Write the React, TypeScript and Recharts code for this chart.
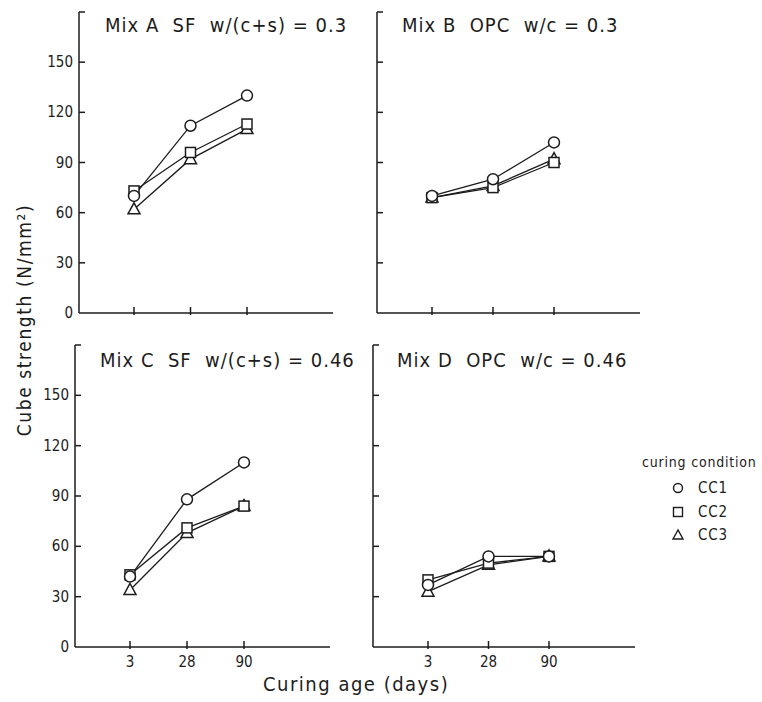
import { LineChart, Line, XAxis, YAxis } from 'recharts'

const INK = '#1c1c1c'
const FONT = '"DejaVu Sans Condensed", "Liberation Sans Narrow", "DejaVu Sans", sans-serif'

// curing age categories and y ticks
const ages = ['3', '28', '90']
const yTicks = [0, 30, 60, 90, 120, 150, 180]
const conditions = ['CC1', 'CC2', 'CC3']

// cube strength (N/mm2) per mix and curing condition
const mixA_cc1 = [70, 112, 130]
const mixA_cc2 = [73, 96, 113]
const mixA_cc3 = [62, 92, 110]

const mixB_cc1 = [70, 80, 102]
const mixB_cc2 = [69, 75, 90]
const mixB_cc3 = [69, 76, 92]

const mixC_cc1 = [42, 88, 110]
const mixC_cc2 = [43, 71, 84]
const mixC_cc3 = [34, 68, 84]

const mixD_cc1 = [37, 54, 54]
const mixD_cc2 = [40, 50, 54]
const mixD_cc3 = [33, 49, 54]

const rows = (cc1: number[], cc2: number[], cc3: number[]) =>
  ages.map((age, i) => ({ age, cc1: cc1[i], cc2: cc2[i], cc3: cc3[i] }))

const CircleDot = (p: any) => (
  <circle key={`c${p.index}`} cx={p.cx} cy={p.cy} r={5.5} fill="#fff" stroke={INK} strokeWidth={1.5} />
)
const SquareDot = (p: any) => (
  <rect key={`s${p.index}`} x={p.cx - 5} y={p.cy - 5} width={10} height={10} fill="#fff" stroke={INK} strokeWidth={1.5} />
)
const TriangleDot = (p: any) => (
  <polygon
    key={`t${p.index}`}
    points={`${p.cx},${p.cy - 6.5} ${p.cx - 6},${p.cy + 4.5} ${p.cx + 6},${p.cy + 4.5}`}
    fill="#fff"
    stroke={INK}
    strokeWidth={1.5}
  />
)

// inward tick marks, labels outside
const yTick = (showLabel: boolean) => (p: any) => {
  const v = p.payload.value
  return (
    <g>
      {v !== 0 && <line x1={p.x} x2={p.x + 6} y1={p.y} y2={p.y} stroke={INK} strokeWidth={1.5} />}
      {showLabel && v !== 180 && (
        <text x={p.x - 6} y={p.y} dy={5} textAnchor="end" fontSize={15} fill={INK} fontFamily={FONT}>
          {v}
        </text>
      )}
    </g>
  )
}
const xTick = (showLabel: boolean) => (p: any) => (
  <g>
    <line x1={p.x} x2={p.x} y1={p.y - 6} y2={p.y + 2} stroke={INK} strokeWidth={1.5} />
    {showLabel && (
      <text x={p.x} y={p.y + 20} textAnchor="middle" fontSize={15} fill={INK} fontFamily={FONT}>
        {p.payload.value}
      </text>
    )}
  </g>
)

type Row = { age: string; cc1: number; cc2: number; cc3: number }
type PanelProps = { box: [number, number, number, number]; data: Row[]; showY: boolean; showX: boolean }

function Panel({ box, data, showY, showX }: PanelProps) {
  const [l, t, r, b] = box
  const YW = 40, MT = 5, MR = 5, XH = 30
  return (
    <div style={{ position: 'absolute', left: l - YW, top: t - MT }}>
      <LineChart
        width={r - l + YW + MR}
        height={b - t + MT + XH}
        data={data}
        margin={{ top: MT, right: MR, bottom: 0, left: 0 }}
      >
        <XAxis
          dataKey="age"
          type="category"
          height={XH}
          interval={0}
          padding={{ left: 55, right: 86 }}
          tickSize={0}
          tickMargin={0}
          axisLine={{ stroke: INK, strokeWidth: 1.5 }}
          tickLine={false}
          tick={xTick(showX)}
        />
        <YAxis
          type="number"
          width={YW}
          domain={[0, 180]}
          ticks={yTicks}
          interval={0}
          tickSize={0}
          tickMargin={0}
          axisLine={{ stroke: INK, strokeWidth: 1.5 }}
          tickLine={false}
          tick={yTick(showY)}
        />
        <Line type="linear" dataKey="cc3" stroke={INK} strokeWidth={1.3} dot={TriangleDot} activeDot={false} isAnimationActive={false} />
        <Line type="linear" dataKey="cc2" stroke={INK} strokeWidth={1.3} dot={SquareDot} activeDot={false} isAnimationActive={false} />
        <Line type="linear" dataKey="cc1" stroke={INK} strokeWidth={1.3} dot={CircleDot} activeDot={false} isAnimationActive={false} />
      </LineChart>
    </div>
  )
}

const txt = (left: number, top: number, size: number, s: string, ls = 0) => (
  <div
    style={{
      position: 'absolute', left, top, fontSize: size, fontFamily: FONT, color: INK,
      whiteSpace: 'pre', lineHeight: 1, letterSpacing: ls,
    }}
  >
    {s}
  </div>
)

const legendIcons = [
  <circle cx={7} cy={7} r={4.5} fill="#fff" stroke={INK} strokeWidth={1.4} />,
  <rect x={2.5} y={2.5} width={9} height={9} fill="#fff" stroke={INK} strokeWidth={1.4} />,
  <polygon points="7,2 2,11 12,11" fill="#fff" stroke={INK} strokeWidth={1.4} />,
]

export default function App() {
  return (
    <div style={{ position: 'absolute', left: 0, top: 0, width: 762, height: 702, background: '#fff', overflow: 'hidden' }}>
      <Panel box={[79, 12, 333, 313]} data={rows(mixA_cc1, mixA_cc2, mixA_cc3)} showY showX={false} />
      <Panel box={[377, 12, 640, 313]} data={rows(mixB_cc1, mixB_cc2, mixB_cc3)} showY={false} showX={false} />
      <Panel box={[75, 345, 330, 647]} data={rows(mixC_cc1, mixC_cc2, mixC_cc3)} showY showX />
      <Panel box={[373, 345, 635, 647]} data={rows(mixD_cc1, mixD_cc2, mixD_cc3)} showY={false} showX />

      {txt(105, 15, 20, 'Mix A  SF  w/(c+s) = 0.3', 1)}
      {txt(402, 15, 20, 'Mix B  OPC  w/c = 0.3', 1)}
      {txt(100, 350, 20, 'Mix C  SF  w/(c+s) = 0.46', 1)}
      {txt(397, 350, 20, 'Mix D  OPC  w/c = 0.46', 1)}

      {txt(263, 674, 20, 'Curing age (days)', 1.5)}
      <div
        style={{
          position: 'absolute', left: 24, top: 320, fontSize: 19, fontFamily: FONT, color: INK,
          whiteSpace: 'pre', lineHeight: 1, letterSpacing: 1.6, transform: 'translate(-50%, -50%) rotate(-90deg)',
        }}
      >
        Cube strength (N/mm²)
      </div>

      {txt(642, 455, 14, 'curing condition', 0.8)}
      {conditions.map((c, i) => (
        <div key={c} style={{ position: 'absolute', left: 671, top: 481 + i * 23.5, display: 'flex', alignItems: 'center' }}>
          <svg width={14} height={14}>{legendIcons[i]}</svg>
          <span style={{ marginLeft: 13, fontSize: 15, fontFamily: FONT, color: INK, lineHeight: '14px', letterSpacing: 0.8 }}>{c}</span>
        </div>
      ))}
    </div>
  )
}
